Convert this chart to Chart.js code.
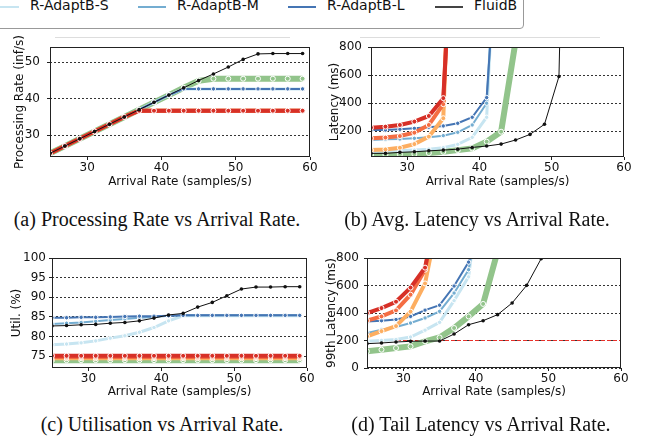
<!DOCTYPE html>
<html>
<head>
<meta charset="utf-8">
<script src="https://cdn.jsdelivr.net/npm/chart.js@4.4.1/dist/chart.umd.min.js"></script>
<style>
    body { margin: 0; background: #fff; }
    #page { position: relative; width: 649px; height: 439px; overflow: hidden; background: #fff; }
    canvas { position: absolute; }
    .legend-box { position: absolute; left: -6px; top: -10px; width: 528px; height: 37px; border: 1px solid #999; border-radius: 4px; background: #fff; z-index: 2; }
    .leg-line { position: absolute; height: 2px; top: 15px; }
    .leg-text { position: absolute; top: 6px; font: 14px "DejaVu Sans"; color: #111; white-space: nowrap; }
    .rule { position: absolute; top: 37px; height: 1px; background: #ddd; }
    .caption { position: absolute; width: 330px; text-align: center; font: 20px "Liberation Serif"; color: #111; white-space: nowrap; }
</style>
</head>
<body>
<div id="page">
    <div class="legend-box">
        <div class="leg-line" style="left:-4px;width:28px;background:#c7e5f1"></div>
        <div class="leg-text" style="left:35px">R-AdaptB-S</div>
        <div class="leg-line" style="left:143px;width:28px;background:#74add1"></div>
        <div class="leg-text" style="left:182px">R-AdaptB-M</div>
        <div class="leg-line" style="left:293px;width:28px;background:#4575b4"></div>
        <div class="leg-text" style="left:332px">R-AdaptB-L</div>
        <div class="leg-line" style="left:440px;width:28px;background:#444"></div>
        <div class="leg-text" style="left:479px">FluidB</div>
    </div>
    <div class="rule" style="left:55px;width:235px"></div>
    <div class="rule" style="left:360px;width:240px"></div>

    <canvas id="chartA" width="324" height="170" style="left:0;top:30px"></canvas>
    <canvas id="chartB" width="329" height="170" style="left:320px;top:30px"></canvas>
    <canvas id="chartC" width="324" height="170" style="left:0;top:240px"></canvas>
    <canvas id="chartD" width="329" height="170" style="left:320px;top:240px"></canvas>

    <div class="caption" style="left:-8px;top:208px">(a) Processing Rate vs Arrival Rate.</div>
    <div class="caption" style="left:312px;top:208px">(b) Avg. Latency vs Arrival Rate.</div>
    <div class="caption" style="left:-3px;top:413px">(c) Utilisation vs Arrival Rate.</div>
    <div class="caption" style="left:316px;top:413px">(d) Tail Latency vs Arrival Rate.</div>
</div>
<script>
// arrival rates (samples/s) shared by every panel
const arrivalRate = [25, 27, 29, 31, 33, 35, 37, 39, 41, 43, 45, 47, 49, 51, 53, 55, 57, 59];
const xTicks = [30, 40, 50, 60];

// (a) processing rate (inf/s)
const procFluid  = [25, 27, 29, 31, 33, 35, 37, 39, 41, 43, 45, 46.8, 48.7, 50.8, 52.3, 52.4, 52.4, 52.4];
const procRed    = [25, 27, 29, 31, 33, 35, 36.7, 36.7, 36.7, 36.7, 36.7, 36.7, 36.7, 36.7, 36.7, 36.7, 36.7, 36.7];
const procOrange = [25, 27, 29, 31, 33, 35, 36.7, 36.7, 36.7, 36.7, 36.7, 36.7, 36.7, 36.7, 36.7, 36.7, 36.7, 36.7];
const procYellow = [25, 27, 29, 31, 33, 35, 36.7, 36.7, 36.7, 36.7, 36.7, 36.7, 36.7, 36.7, 36.7, 36.7, 36.7, 36.7];
const procL      = [25, 27, 29, 31, 33, 35, 37, 39, 41, 42.7, 42.7, 42.7, 42.7, 42.7, 42.7, 42.7, 42.7, 42.7];
const procM      = [25, 27, 29, 31, 33, 35, 37, 39, 41, 42.7, 42.7, 42.7, 42.7, 42.7, 42.7, 42.7, 42.7, 42.7];
const procS      = [25, 27, 29, 31, 33, 35, 37, 39, 41, 42.7, 42.7, 42.7, 42.7, 42.7, 42.7, 42.7, 42.7, 42.7];
const procGreen  = [25, 27, 29, 31, 33, 35, 37, 39, 41, 43, 44.9, 45.5, 45.5, 45.5, 45.5, 45.5, 45.5, 45.5];
const procTicks = [30, 40, 50];

// (b) average latency (ms)
const latFluid  = [43, 43, 50, 54, 61, 66, 73, 85, 95, 109, 138, 178, 250, 590, 5000, null, null, null];
const latRed    = [226, 233, 245, 269, 309, 436, 2300, null, null, null, null, null, null, null, null, null, null, null];
const latOrange = [150, 155, 166, 190, 245, 393, 2700, null, null, null, null, null, null, null, null, null, null, null];
const latYellow = [66, 71, 83, 109, 162, 293, 3100, null, null, null, null, null, null, null, null, null, null, null];
const latL      = [209, 209, 214, 221, 229, 238, 257, 300, 440, 2000, null, null, null, null, null, null, null, null];
const latM      = [138, 143, 145, 150, 157, 169, 193, 245, 400, 2150, null, null, null, null, null, null, null, null];
const latS      = [54, 59, 61, 66, 73, 83, 107, 157, 300, 2450, null, null, null, null, null, null, null, null];
const latGreen  = [31, 33, 35, 38, 45, 54, 66, 78, 126, 197, 840, 4000, null, null, null, null, null, null];
const latTicks = [200, 400, 600, 800];

// (c) utilisation (%)
const utilFluid  = [82.7, 82.8, 83.0, 83.1, 83.4, 83.6, 84.0, 84.7, 85.5, 85.9, 87.5, 88.7, 90.4, 92.1, 92.6, 92.6, 92.7, 92.7];
const utilRed    = [75.1, 75.1, 75.1, 75.1, 75.1, 75.1, 75.1, 75.1, 75.1, 75.1, 75.1, 75.1, 75.1, 75.1, 75.1, 75.1, 75.1, 75.1];
const utilOrange = [74.8, 74.8, 74.8, 74.8, 74.8, 74.8, 74.8, 74.8, 74.8, 74.8, 74.8, 74.8, 74.8, 74.8, 74.8, 74.8, 74.8, 74.8];
const utilYellow = [74.5, 74.5, 74.5, 74.5, 74.5, 74.5, 74.5, 74.5, 74.5, 74.5, 74.5, 74.5, 74.5, 74.5, 74.5, 74.5, 74.5, 74.5];
const utilL      = [84.8, 84.8, 84.9, 84.9, 85.0, 85.1, 85.2, 85.2, 85.3, 85.4, 85.4, 85.4, 85.4, 85.4, 85.4, 85.4, 85.4, 85.4];
const utilM      = [83.2, 83.4, 83.6, 83.9, 84.2, 84.5, 84.8, 85.0, 85.3, 85.4, 85.4, 85.4, 85.4, 85.4, 85.4, 85.4, 85.4, 85.4];
const utilS      = [77.9, 78.1, 78.4, 78.9, 79.6, 80.2, 81.1, 82.3, 84.0, 85.3, 85.3, 85.3, 85.3, 85.3, 85.3, 85.3, 85.3, 85.3];
const utilGreen  = [74.0, 74.0, 74.0, 74.0, 74.0, 74.0, 74.0, 74.0, 74.0, 74.0, 74.0, 74.0, 74.0, 74.0, 74.0, 74.0, 74.0, 74.0];
const utilTicks = [75, 80, 85, 90, 95, 100];

// (d) 99th percentile latency (ms)
const tailFluid  = [177, 182, 189, 194, 196, 196, 247, 315, 344, 388, 473, 601, 795, 1500, null, null, null, null];
const tailRed    = [400, 436, 482, 585, 730, 1250, null, null, null, null, null, null, null, null, null, null, null, null];
const tailOrange = [344, 375, 419, 533, 715, 1280, null, null, null, null, null, null, null, null, null, null, null, null];
const tailYellow = [230, 268, 305, 410, 615, 1140, null, null, null, null, null, null, null, null, null, null, null, null];
const tailL      = [339, 344, 353, 375, 421, 457, 596, 770, 1150, null, null, null, null, null, null, null, null, null];
const tailM      = [255, 279, 298, 327, 364, 412, 545, 715, 1280, null, null, null, null, null, null, null, null, null];
const tailS      = [194, 200, 208, 225, 275, 332, 490, 663, 1490, null, null, null, null, null, null, null, null, null];
const tailGreen  = [121, 133, 145, 157, 194, 222, 291, 375, 466, 850, 2000, null, null, null, null, null, null, null];
const tailTicks = [0, 200, 400, 600, 800];
const sloLatency = 200;

const styles = {
    fluid:  { color: '#111111', width: 1, radius: 1.8, ring: 0 },
    red:    { color: '#d73027', width: 4, radius: 2.5, ring: 1 },
    orange: { color: '#f46d43', width: 4, radius: 2.5, ring: 1 },
    yellow: { color: '#fdae61', width: 4, radius: 2.5, ring: 1 },
    L:      { color: '#4575b4', width: 2, radius: 2.2, ring: 1 },
    M:      { color: '#74add1', width: 2, radius: 2.2, ring: 1 },
    S:      { color: '#c7e5f1', width: 3, radius: 2.2, ring: 1 },
    green:  { color: '#92c48b', width: 6, radius: 2.5, ring: 1 }
};

Chart.defaults.font.family = 'DejaVu Sans';
Chart.defaults.font.size = 12;
Chart.defaults.color = '#111';

function makeDataset(label, values, st) {
    return {
        label: label,
        data: arrivalRate.map((x, i) => ({ x: x, y: values[i] })),
        borderColor: st.color,
        backgroundColor: st.color,
        borderWidth: st.width,
        pointRadius: st.radius,
        pointBackgroundColor: st.color,
        pointBorderColor: st.ring ? '#ffffff' : st.color,
        pointBorderWidth: st.ring,
        tension: 0,
        spanGaps: false
    };
}

// first dataset is painted last, so FluidB sits on top and green at the bottom
function panelDatasets(fluid, red, orange, yellow, L, M, S, green) {
    return [
        makeDataset('FluidB', fluid, styles.fluid),
        makeDataset('red', red, styles.red),
        makeDataset('orange', orange, styles.orange),
        makeDataset('yellow', yellow, styles.yellow),
        makeDataset('R-AdaptB-L', L, styles.L),
        makeDataset('R-AdaptB-M', M, styles.M),
        makeDataset('R-AdaptB-S', S, styles.S),
        makeDataset('green', green, styles.green)
    ];
}

// box round the plot area, like matplotlib spines
const framePlugin = {
    id: 'frame',
    afterDraw(chart) {
        const a = chart.chartArea;
        const ctx = chart.ctx;
        ctx.save();
        ctx.strokeStyle = '#222';
        ctx.lineWidth = 1;
        ctx.strokeRect(Math.round(a.left) + 0.5, Math.round(a.top) + 0.5,
            Math.round(a.right - a.left) - 1, Math.round(a.bottom - a.top) - 1);
        ctx.restore();
    }
};

// red dashed SLO line in the tail latency panel
const sloPlugin = {
    id: 'slo',
    beforeDatasetsDraw(chart, args, opts) {
        if (opts.value == null) return;
        const a = chart.chartArea;
        const y = chart.scales.y.getPixelForValue(opts.value);
        const ctx = chart.ctx;
        ctx.save();
        ctx.strokeStyle = '#e8302a';
        ctx.lineWidth = 1.2;
        ctx.setLineDash([4, 2]);
        ctx.beginPath();
        ctx.moveTo(a.left, y);
        ctx.lineTo(a.right, y);
        ctx.stroke();
        ctx.restore();
    }
};

function makeChart(id, datasets, cfg) {
    const ctx = document.getElementById(id).getContext('2d');
    return new Chart(ctx, {
        type: 'line',
        data: { datasets: datasets },
        plugins: [framePlugin, sloPlugin],
        options: {
            responsive: false,
            animation: false,
            devicePixelRatio: 1,
            layout: { padding: cfg.padding },
            plugins: {
                legend: { display: false },
                tooltip: { enabled: false },
                slo: { value: cfg.slo }
            },
            scales: {
                x: {
                    type: 'linear',
                    min: 25,
                    max: 60,
                    afterBuildTicks: s => { s.ticks = xTicks.map(v => ({ value: v })); },
                    afterFit: s => { s.height = cfg.xHeight; },
                    grid: { drawOnChartArea: false, drawTicks: true, tickLength: 3, tickColor: '#222' },
                    border: { display: false },
                    ticks: { maxRotation: 0, padding: 1, color: '#111', font: { size: 12 } },
                    title: { display: true, text: 'Arrival Rate (samples/s)', padding: 0, color: '#111', font: { size: 12 } }
                },
                y: {
                    type: 'linear',
                    min: cfg.yMin,
                    max: cfg.yMax,
                    afterBuildTicks: s => { s.ticks = cfg.yTicks.map(v => ({ value: v })); },
                    afterFit: s => { s.width = cfg.yWidth; },
                    grid: { color: '#333', lineWidth: 1, drawTicks: true, tickLength: 3, tickColor: '#222' },
                    border: { display: false, dash: [2, 2] },
                    ticks: { padding: cfg.tickPad, color: '#111', font: { size: 12 } },
                    title: { display: true, text: cfg.yTitle, padding: { top: cfg.titlePad, bottom: 0 }, color: '#111', font: { size: 12 } }
                }
            }
        }
    });
}

makeChart('chartA',
    panelDatasets(procFluid, procRed, procOrange, procYellow, procL, procM, procS, procGreen),
    { padding: { left: 0, top: 17, right: 14, bottom: 11 }, xHeight: 32, yWidth: 50,
      yMin: 24, yMax: 54.2, yTicks: procTicks, yTitle: 'Processing Rate (inf/s)', titlePad: 13, tickPad: 7 });

makeChart('chartB',
    panelDatasets(latFluid, latRed, latOrange, latYellow, latL, latM, latS, latGreen),
    { padding: { left: 0, top: 17, right: 25, bottom: 11 }, xHeight: 32, yWidth: 51,
      yMin: 17, yMax: 800, yTicks: latTicks, yTitle: 'Latency (ms)', titlePad: 8, tickPad: 6 });

makeChart('chartC',
    panelDatasets(utilFluid, utilRed, utilOrange, utilYellow, utilL, utilM, utilS, utilGreen),
    { padding: { left: 0, top: 18, right: 17, bottom: 11 }, xHeight: 31, yWidth: 52,
      yMin: 72, yMax: 100, yTicks: utilTicks, yTitle: 'Util. (%)', titlePad: 10, tickPad: 3 });

makeChart('chartD',
    panelDatasets(tailFluid, tailRed, tailOrange, tailYellow, tailL, tailM, tailS, tailGreen),
    { padding: { left: 0, top: 18, right: 28, bottom: 11 }, xHeight: 31, yWidth: 47,
      yMin: 0, yMax: 800, yTicks: tailTicks, yTitle: '99th Latency (ms)', titlePad: 5, tickPad: 5,
      slo: sloLatency });
</script>
</body>
</html>
